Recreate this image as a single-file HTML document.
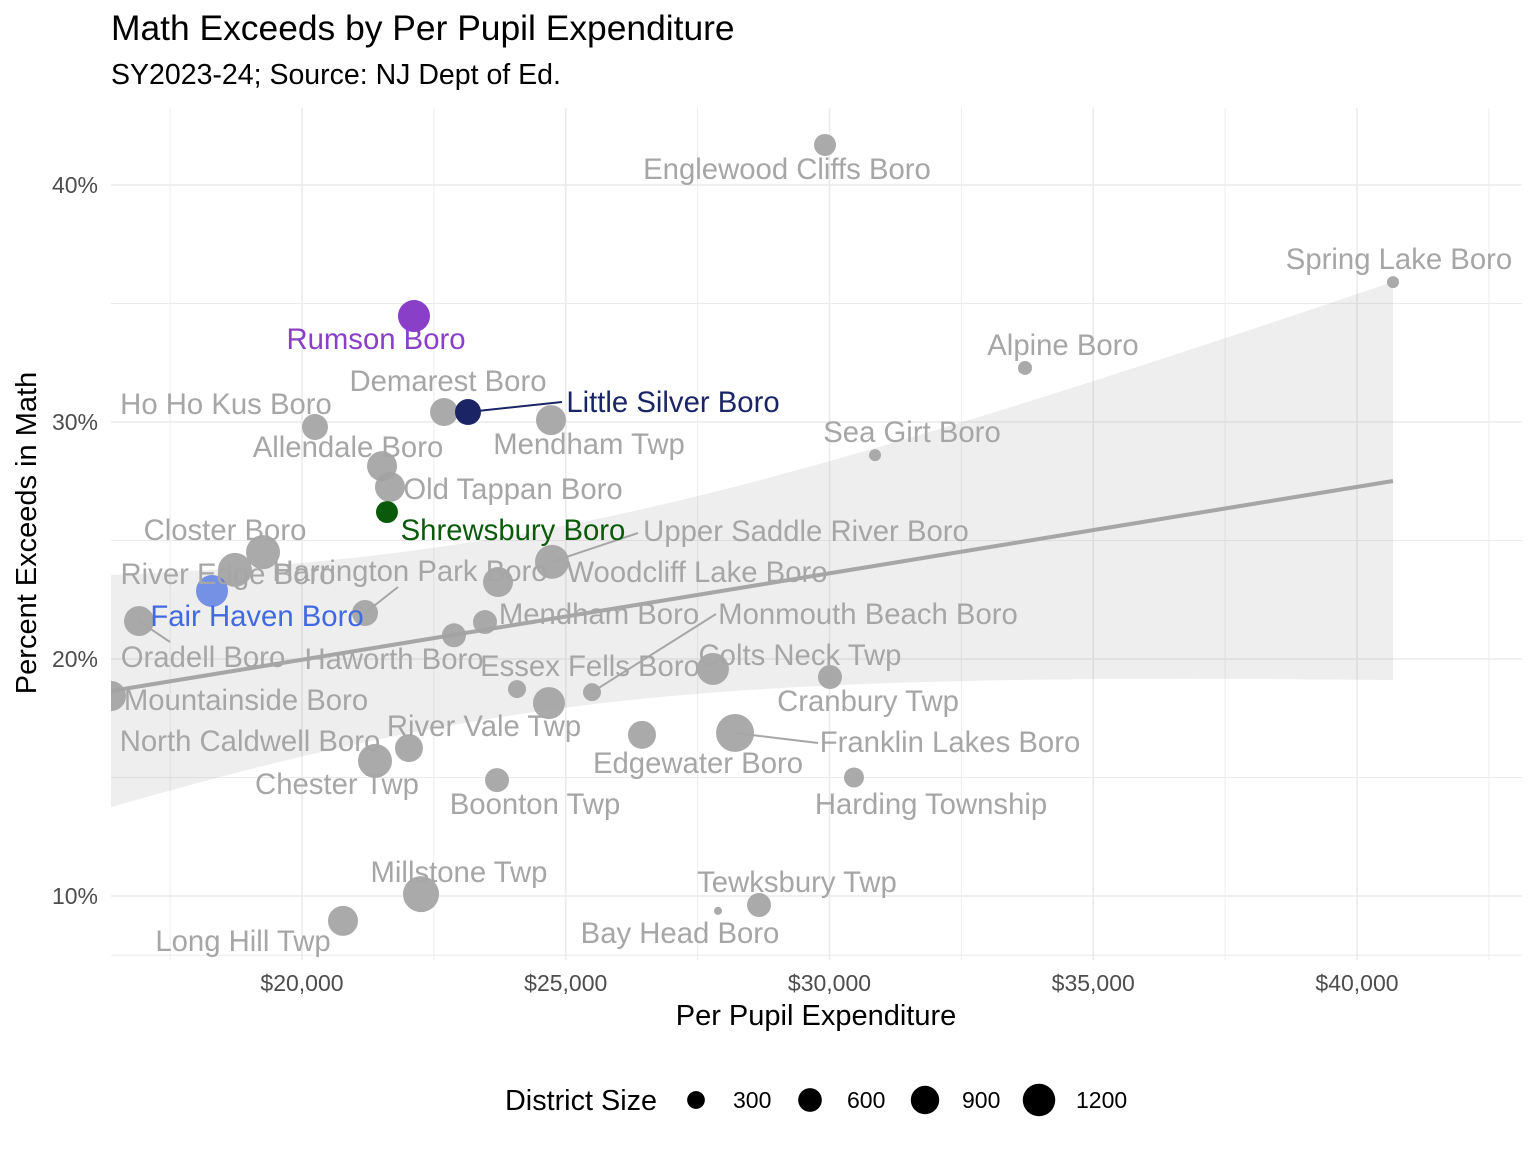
<!DOCTYPE html>
<html><head><meta charset="utf-8">
<style>
html,body{margin:0;padding:0;background:#fff;}
svg{display:block;font-family:"Liberation Sans",Arial,sans-serif;}
</style></head>
<body>
<svg id="chart" width="1536" height="1152" viewBox="0 0 1536 1152">
<defs><clipPath id="panelClip"><rect x="111" y="108" width="1411" height="852"/></clipPath></defs>
<g id="grid"></g>
<g id="panel" clip-path="url(#panelClip)"></g>
<g id="labels"></g>
<g id="axes"></g>
<text x="111" y="40" font-size="35.4" fill="#000">Math Exceeds by Per Pupil Expenditure</text>
<text x="111" y="84" font-size="28.5" fill="#000">SY2023-24; Source: NJ Dept of Ed.</text>
<text x="816" y="1025" font-size="29" text-anchor="middle" fill="#000">Per Pupil Expenditure</text>
<text transform="translate(36,533) rotate(-90)" font-size="29" text-anchor="middle" fill="#000">Percent Exceeds in Math</text>
<g id="legend">
<text x="505" y="1110" font-size="28.8" fill="#000">District Size</text>
</g>
</svg>
<script>
const districts = ["Englewood Cliffs Boro","Spring Lake Boro","Alpine Boro","Sea Girt Boro","Rumson Boro","Demarest Boro","Little Silver Boro","Mendham Twp","Ho Ho Kus Boro","Allendale Boro","Old Tappan Boro","Shrewsbury Boro","Closter Boro","River Edge Boro","Upper Saddle River Boro","Woodcliff Lake Boro","Fair Haven Boro","Harrington Park Boro","Oradell Boro","Mendham Boro","Haworth Boro","Mountainside Boro","Essex Fells Boro","Monmouth Beach Boro","Colts Neck Twp","Cranbury Twp","River Vale Twp","North Caldwell Boro","Chester Twp","Edgewater Boro","Franklin Lakes Boro","Harding Township","Boonton Twp","Millstone Twp","Long Hill Twp","Tewksbury Twp","Bay Head Boro"];
const expenditure = [29915,40682,33706,30863,22123,22692,23147,24720,20246,21517,21668,21611,19261,18730,24739,23716,18294,21194,16910,23469,22881,16380,24076,25498,27791,30009,24682,22028,21384,26445,28209,30464,23697,22256,20777,28664,27886];
const mathExceeds = [41.69,35.9,32.28,28.6,34.47,30.42,30.42,30.08,29.79,28.14,27.26,26.2,24.51,23.76,24.1,23.25,22.87,21.94,21.6,21.56,21.0,18.44,18.73,18.6,19.58,19.24,18.14,16.24,15.7,16.8,16.88,15.0,14.89,10.08,8.95,9.62,9.37];
const districtSize = [629,129,206,129,1424,1071,912,1241,912,1241,1241,629,1618,1618,1618,1241,1424,912,1241,765,765,1241,394,394,1424,765,1424,1071,1618,1071,2041,506,765,1824,1241,765,12];
// fitted smooth: x ends, fitted y at ends, CI half-widths at ends
const smoothX = [16380,40682];
const smoothY = [18.65,27.51];
const smoothHalfWidth = [4.9,8.4];
const smoothCenterX = [23500];
const xTicks = [20000,25000,30000,35000,40000];
const xTickLabels = ["$20,000","$25,000","$30,000","$35,000","$40,000"];
const yTicks = [10,20,30,40];
const yTickLabels = ["10%","20%","30%","40%"];
const legendSizes = [300,600,900,1200];

const highlight = {"Rumson Boro":["#8a3fc9","#8a3fc9",1],"Little Silver Boro":["#1b2566","#1b2566",1],"Shrewsbury Boro":["#0b5a0b","#0b5a0b",1],"Fair Haven Boro":["#4169e1","#4169e1",0.7]};
const labelLayout = {
"Englewood Cliffs Boro":[787,179],"Spring Lake Boro":[1399,269],"Alpine Boro":[1063,355],"Sea Girt Boro":[912,442],
"Rumson Boro":[376,349],"Demarest Boro":[448,391],"Little Silver Boro":[673,412,562,402],"Mendham Twp":[589,454],
"Ho Ho Kus Boro":[226,414],"Allendale Boro":[348,457],"Old Tappan Boro":[513,499],"Shrewsbury Boro":[513,540],
"Closter Boro":[225,540],"River Edge Boro":[228,584],"Upper Saddle River Boro":[806,541,638,533],"Woodcliff Lake Boro":[697,582],
"Fair Haven Boro":[257,626],"Harrington Park Boro":[410,581,398,587],"Oradell Boro":[203,667,170,642],"Mendham Boro":[599,624],
"Haworth Boro":[394,669],"Mountainside Boro":[246,710],"Essex Fells Boro":[590,676],"Monmouth Beach Boro":[868,624,716,614],
"Colts Neck Twp":[800,665],"Cranbury Twp":[868,711],"River Vale Twp":[484,736],"North Caldwell Boro":[250,751],
"Chester Twp":[337,794],"Edgewater Boro":[698,773],"Franklin Lakes Boro":[950,752,818,743],"Harding Township":[931,814],
"Boonton Twp":[535,814],"Millstone Twp":[459,882],"Long Hill Twp":[243,951],"Tewksbury Twp":[797,892],"Bay Head Boro":[680,943]};

const NS="http://www.w3.org/2000/svg";
function mk(tag,attrs,parent){const e=document.createElementNS(NS,tag);for(const k in attrs)e.setAttribute(k,attrs[k]);parent.appendChild(e);return e;}
const X0=111,X1=1522,Y0=108,Y1=960;
function xs(v){return 302+(v-20000)*0.05275;}
function ys(v){return 185+(40-v)*23.7;}
function rs(n){return Math.sqrt(14+0.17*n);}

const grid=document.getElementById('grid');
for(let v=17500;v<=42500;v+=2500){const major=v%5000===0;const gl=mk('line',{x1:xs(v),x2:xs(v),y1:Y0,y2:Y1,stroke:'#ebebeb','stroke-width':major?1.6:0.9},grid);}
for(let v=7.5;v<=45;v+=2.5){const y=ys(v);if(y<Y0||y>Y1)continue;const major=v%10===0;if(!major&&v%5!==0&&v!==7.5)continue;const gl=mk('line',{x1:X0,x2:X1,y1:y,y2:y,stroke:'#ebebeb','stroke-width':major?1.6:0.9},grid);}

const axes=document.getElementById('axes');
xTicks.forEach((v,i)=>{const t=mk('text',{x:xs(v),y:991,'font-size':23,'text-anchor':'middle',fill:'#4d4d4d'},axes);t.textContent=xTickLabels[i];});
yTicks.forEach((v,i)=>{const t=mk('text',{x:98,y:ys(v)+8,'font-size':23,'text-anchor':'end',fill:'#4d4d4d'},axes);t.textContent=yTickLabels[i];});

// smooth band: hyperbolic half-width through the two end widths
const cx=smoothCenterX[0];
const d1=(smoothX[0]-cx)**2,d2=(smoothX[1]-cx)**2;
const bq=(smoothHalfWidth[1]**2-smoothHalfWidth[0]**2)/(d2-d1);
const aq=Math.max(0.01,smoothHalfWidth[0]**2-bq*d1);
const slope=(smoothY[1]-smoothY[0])/(smoothX[1]-smoothX[0]);
const panel=document.getElementById('panel');
let up=[],lo=[],ln=[];
for(let k=0;k<=80;k++){const x=smoothX[0]+(smoothX[1]-smoothX[0])*k/80;const yh=smoothY[0]+slope*(x-smoothX[0]);const hw=Math.sqrt(aq+bq*(x-cx)**2);up.push(xs(x)+','+ys(yh+hw));lo.push(xs(x)+','+ys(yh-hw));ln.push(xs(x)+','+ys(yh));}
const rib=mk('polygon',{points:up.concat(lo.reverse()).join(' '),fill:'#999','fill-opacity':0.17},panel);


const fit=mk('polyline',{points:ln.join(' '),fill:'none',stroke:'#a6a6a6','stroke-width':4},panel);



const labels=document.getElementById('labels');
districts.forEach((d,i)=>{
  const px=xs(expenditure[i]),py=ys(mathExceeds[i]);
  const h=highlight[d];
  const L=labelLayout[d];
  if(L&&L.length>2){const seg=mk('line',{x1:px,y1:py,x2:L[2],y2:L[3],stroke:h?h[1]:'#a6a6a6','stroke-width':2},labels);}
});
districts.forEach((d,i)=>{
  const h=highlight[d];
  const c=mk('circle',{cx:xs(expenditure[i]),cy:ys(mathExceeds[i]),r:rs(districtSize[i]),fill:h?h[0]:'#a3a3a3','fill-opacity':h?h[2]:0.92},panel);
  
  
});
districts.forEach((d,i)=>{
  const h=highlight[d];const L=labelLayout[d];if(!L)return;
  const t=mk('text',{x:L[0],y:L[1],'font-size':29.3,'text-anchor':'middle',fill:h?h[1]:'#a6a6a6'},labels);
  t.textContent=d;
  
  
});

const legend=document.getElementById('legend');
const legX=[696,810,925,1039];
legendSizes.forEach((v,i)=>{
  const c=mk('circle',{cx:legX[i],cy:1100,r:rs(v)*1.1,fill:'#000'},legend);
  
  
  const t=mk('text',{x:legX[i]+37,y:1108,'font-size':23,fill:'#000'},legend);
  t.textContent=v;
  
  
});
</script>
</body></html>
